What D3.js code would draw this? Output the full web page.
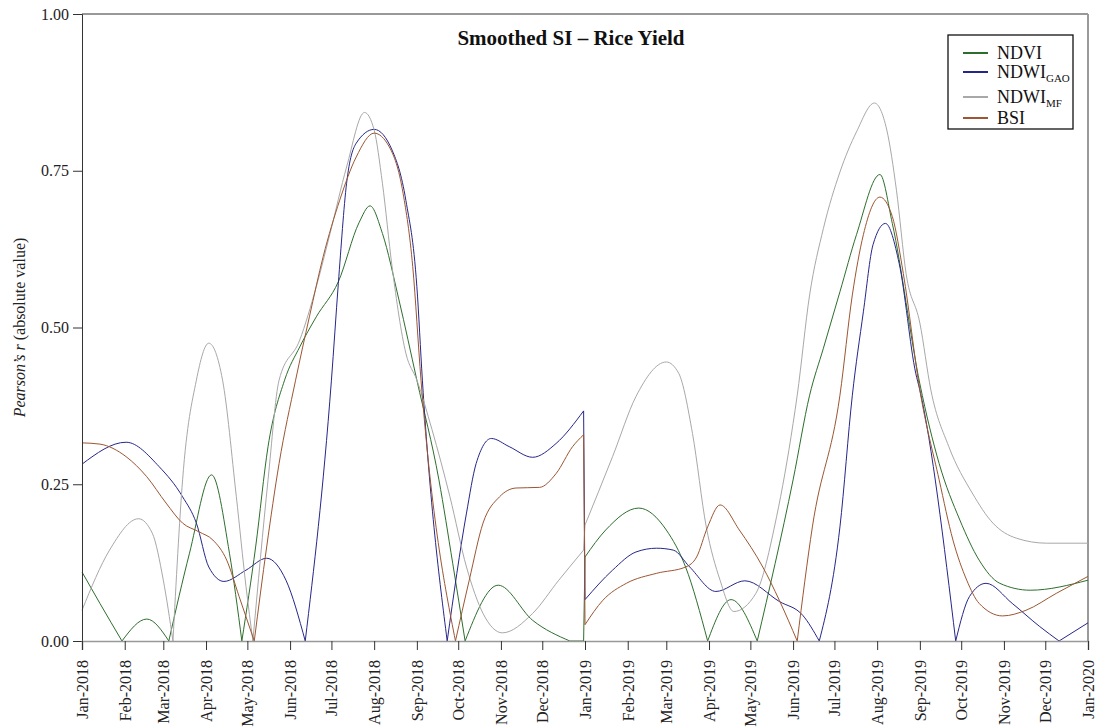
<!DOCTYPE html>
<html>
<head>
<meta charset="utf-8">
<script src="https://cdn.jsdelivr.net/npm/d3@7"></script>
<style>
  body { margin: 0; background: #fff; }
  svg { display: block; font-family: "Liberation Serif", "Times New Roman", serif; }
</style>
</head>
<body>
<div id="chart"></div>
<script>
// Values: [date, |r|]
const ndvi = [
	["2018-01-01", 0.11], ["2018-01-14", 0.06], ["2018-01-30", 0], ["2018-02-17", 0.035],
	["2018-03-05", 0], ["2018-03-20", 0.14], ["2018-04-05", 0.265], ["2018-04-18", 0.14],
	["2018-04-27", 0], ["2018-05-07", 0.15], ["2018-05-16", 0.31], ["2018-05-28", 0.416],
	["2018-06-08", 0.469], ["2018-06-20", 0.517], ["2018-07-06", 0.573], ["2018-07-21", 0.667],
	["2018-07-29", 0.694], ["2018-08-07", 0.65], ["2018-08-19", 0.544], ["2018-09-01", 0.416],
	["2018-09-17", 0.257], ["2018-09-27", 0.124], ["2018-10-06", 0], ["2018-10-30", 0.089],
	["2018-11-24", 0.033], ["2018-12-21", 0], ["2018-12-31", 0],
	["2019-01-01", 0.134], ["2019-01-16", 0.177], ["2019-02-09", 0.212], ["2019-03-01", 0.177],
	["2019-03-15", 0.118], ["2019-03-31", 0], ["2019-04-17", 0.066], ["2019-05-06", 0],
	["2019-06-01", 0.257], ["2019-06-13", 0.392], ["2019-06-23", 0.467], ["2019-07-05", 0.557],
	["2019-07-17", 0.648], ["2019-08-03", 0.744], ["2019-08-12", 0.666], ["2019-09-01", 0.41],
	["2019-09-15", 0.283], ["2019-09-30", 0.193], ["2019-10-14", 0.129], ["2019-10-29", 0.092],
	["2019-11-20", 0.081], ["2020-01-01", 0.097],
];

const ndwiGao = [
	["2018-01-01", 0.282], ["2018-02-02", 0.317], ["2018-02-26", 0.278], ["2018-03-15", 0.23],
	["2018-03-25", 0.188], ["2018-04-03", 0.118], ["2018-04-14", 0.095], ["2018-04-30", 0.113],
	["2018-05-15", 0.132], ["2018-05-29", 0.097], ["2018-06-12", 0], ["2018-07-01", 0.416],
	["2018-07-06", 0.57], ["2018-07-12", 0.73], ["2018-07-19", 0.794], ["2018-08-01", 0.816],
	["2018-08-14", 0.783], ["2018-08-24", 0.703], ["2018-09-01", 0.565], ["2018-09-05", 0.416],
	["2018-09-23", 0], ["2018-10-07", 0.204], ["2018-10-14", 0.283], ["2018-10-25", 0.323],
	["2018-11-07", 0.31], ["2018-11-24", 0.293], ["2018-12-11", 0.315], ["2018-12-31", 0.367],
	["2019-01-01", 0.066], ["2019-01-21", 0.113], ["2019-02-07", 0.142], ["2019-02-22", 0.148],
	["2019-03-06", 0.145], ["2019-03-18", 0.118], ["2019-04-06", 0.079], ["2019-04-27", 0.096],
	["2019-05-22", 0.063], ["2019-06-08", 0.041], ["2019-06-20", 0], ["2019-07-05", 0.182],
	["2019-07-14", 0.392], ["2019-07-22", 0.525], ["2019-07-29", 0.632], ["2019-08-07", 0.666],
	["2019-08-17", 0.602], ["2019-08-29", 0.427], ["2019-09-01", 0.40], ["2019-09-27", 0],
	["2019-10-07", 0.071], ["2019-10-19", 0.092], ["2019-11-07", 0.06], ["2019-11-27", 0.023],
	["2019-12-11", 0], ["2020-01-01", 0.029],
];

const ndwiMf = [
	["2018-01-01", 0.049], ["2018-01-21", 0.145], ["2018-02-11", 0.195], ["2018-02-21", 0.172],
	["2018-03-01", 0.097], ["2018-03-08", 0], ["2018-03-15", 0.257], ["2018-03-25", 0.416],
	["2018-04-03", 0.475], ["2018-04-13", 0.416], ["2018-04-23", 0.23], ["2018-04-30", 0.087],
	["2018-05-05", 0], ["2018-05-16", 0.257], ["2018-05-24", 0.416], ["2018-06-08", 0.48],
	["2018-06-20", 0.565], ["2018-06-30", 0.65], ["2018-07-12", 0.756], ["2018-07-25", 0.843],
	["2018-08-01", 0.815], ["2018-08-07", 0.73], ["2018-08-14", 0.597], ["2018-08-24", 0.459],
	["2018-09-01", 0.416], ["2018-09-12", 0.337], ["2018-09-25", 0.23], ["2018-10-07", 0.118],
	["2018-10-19", 0.044], ["2018-11-02", 0.013], ["2018-11-24", 0.044], ["2018-12-13", 0.097],
	["2018-12-31", 0.145],
	["2019-01-01", 0.185], ["2019-01-21", 0.294], ["2019-02-07", 0.39], ["2019-03-01", 0.445],
	["2019-03-10", 0.427], ["2019-03-20", 0.331], ["2019-03-30", 0.182], ["2019-04-09", 0.097],
	["2019-04-19", 0.047], ["2019-05-05", 0.076], ["2019-05-20", 0.198], ["2019-06-01", 0.347],
	["2019-06-04", 0.392], ["2019-06-13", 0.552], ["2019-06-23", 0.658], ["2019-07-05", 0.748],
	["2019-07-17", 0.812], ["2019-07-30", 0.858], ["2019-08-08", 0.815], ["2019-08-15", 0.719],
	["2019-08-22", 0.586], ["2019-09-01", 0.507], ["2019-09-09", 0.40], ["2019-09-22", 0.31],
	["2019-10-09", 0.236], ["2019-10-24", 0.188], ["2019-11-10", 0.164], ["2019-12-02", 0.156],
	["2020-01-01", 0.156],
];

const bsi = [
	["2018-01-01", 0.316], ["2018-01-14", 0.314], ["2018-02-02", 0.294], ["2018-02-17", 0.262],
	["2018-03-03", 0.22], ["2018-03-15", 0.188], ["2018-03-27", 0.174], ["2018-04-06", 0.161],
	["2018-04-16", 0.129], ["2018-04-25", 0.071], ["2018-05-06", 0], ["2018-05-15", 0.15],
	["2018-05-24", 0.283], ["2018-06-05", 0.416], ["2018-06-15", 0.517], ["2018-06-25", 0.613],
	["2018-07-07", 0.703], ["2018-07-19", 0.772], ["2018-08-01", 0.81], ["2018-08-12", 0.788],
	["2018-08-22", 0.714], ["2018-08-29", 0.597], ["2018-09-04", 0.416], ["2018-09-29", 0],
	["2018-10-09", 0.097], ["2018-10-19", 0.188], ["2018-10-31", 0.23], ["2018-11-12", 0.244],
	["2018-11-29", 0.245], ["2018-12-11", 0.267], ["2018-12-23", 0.31], ["2018-12-31", 0.329],
	["2019-01-01", 0.026], ["2019-01-14", 0.065], ["2019-01-31", 0.092], ["2019-02-22", 0.108],
	["2019-03-15", 0.118], ["2019-03-23", 0.134], ["2019-03-31", 0.182], ["2019-04-09", 0.217],
	["2019-04-23", 0.177], ["2019-05-10", 0.118], ["2019-05-22", 0.065], ["2019-06-04", 0],
	["2019-06-15", 0.182], ["2019-07-05", 0.392], ["2019-07-14", 0.552], ["2019-07-22", 0.648],
	["2019-08-03", 0.708], ["2019-08-12", 0.677], ["2019-08-20", 0.586], ["2019-09-01", 0.40],
	["2019-09-15", 0.257], ["2019-09-25", 0.161], ["2019-10-05", 0.097], ["2019-10-14", 0.06],
	["2019-10-31", 0.04], ["2019-11-17", 0.049], ["2019-12-09", 0.076], ["2020-01-01", 0.103],
];

const seriesNames = ["NDVI", "NDWI", "NDWI", "BSI"];
const seriesSubs = ["", "GAO", "MF", ""];
const seriesColors = ["#2d6e2d", "#26268a", "#a8a8a8", "#9c5632"];
const seriesData = [ndvi, ndwiGao, ndwiMf, bsi];
const yTicks = [0, 0.25, 0.5, 0.75, 1];

const W = 1099, H = 727;
const margin = { top: 14, right: 11, bottom: 86, left: 82 };
const iW = W - margin.left - margin.right;
const iH = H - margin.top - margin.bottom;
const parse = d3.timeParse("%Y-%m-%d");
const yearBreak = parse("2019-01-01");

const svg = d3.select("#chart").append("svg").attr("width", W).attr("height", H);
const g = svg.append("g").attr("transform", `translate(${margin.left},${margin.top})`);

const x = d3.scaleTime().domain([parse("2018-01-01"), parse("2020-01-01")]).range([0, iW]);
const y = d3.scaleLinear().domain([0, 1]).range([iH, 0]);

// frame: dark top, grey right
g.append("line").attr("x1", 0).attr("x2", iW).attr("y1", 0).attr("y2", 0)
	.attr("stroke", "#333").attr("stroke-width", 1);
g.append("line").attr("x1", iW).attr("x2", iW).attr("y1", 0).attr("y2", iH)
	.attr("stroke", "#9a9a9a").attr("stroke-width", 2);

// split at zero cusps and at the year change so the curve stays sharp there
function segments(pts) {
	const segs = [];
	let cur = [pts[0]];
	for (let i = 1; i < pts.length; i++) {
		const p = pts[i];
		if (+p.date === +yearBreak) {
			segs.push(cur);
			segs.push([pts[i - 1], p]);
			cur = [p];
			continue;
		}
		cur.push(p);
		if (p.v === 0) {
			segs.push(cur);
			cur = [p];
		}
	}
	segs.push(cur);
	return segs.filter((s) => s.length > 1);
}

const line = d3.line()
	.x((d) => x(d.date))
	.y((d) => y(d.v))
	.curve(d3.curveMonotoneX);

seriesData.forEach((raw, i) => {
	const pts = raw.map(([dt, v]) => ({ date: parse(dt), v }));
	const d = segments(pts).map((s) => line(s)).join("");
	g.append("path")
		.attr("d", d)
		.attr("fill", "none")
		.attr("stroke", seriesColors[i])
		.attr("stroke-width", 1)
		.attr("stroke-linejoin", "round");
});

// axes
g.append("g")
	.call(d3.axisLeft(y).tickValues(yTicks).tickSize(9).tickPadding(4).tickFormat(d3.format(".2f")))
	.call((a) => {
		a.select(".domain").attr("stroke", "#333");
		a.selectAll("line").attr("stroke", "#333");
		a.selectAll("text").attr("fill", "#222").style("font-size", "16px")
			.style("font-family", "'Liberation Serif', serif");
	});

g.append("g")
	.attr("transform", `translate(0,${iH})`)
	.call(d3.axisBottom(x).ticks(d3.timeMonth.every(1)).tickSize(9).tickFormat(d3.timeFormat("%b-%Y")))
	.call((a) => {
		a.select(".domain").attr("stroke", "#999").attr("stroke-width", 1.6);
		a.selectAll("line").attr("stroke", "#333");
		a.selectAll("text")
			.attr("fill", "#222")
			.style("font-size", "16px")
			.style("font-family", "'Liberation Serif', serif")
			.style("text-anchor", "end")
			.attr("transform", "rotate(-90)")
			.attr("x", -19)
			.attr("y", 0)
			.attr("dy", "0.33em");
	});

// title
g.append("text")
	.attr("x", 489)
	.attr("y", 31)
	.attr("text-anchor", "middle")
	.style("font-size", "21px")
	.style("font-weight", "bold")
	.attr("fill", "#111")
	.text("Smoothed SI – Rice Yield");

// y label
const yl = svg.append("text")
	.attr("transform", `translate(25,${margin.top + iH / 2}) rotate(-90)`)
	.attr("text-anchor", "middle")
	.style("font-size", "16px")
	.attr("fill", "#222");
yl.append("tspan").style("font-style", "italic").text("Pearson’s r");
yl.append("tspan").text(" (absolute value)");

// legend
const legendRowY = [18, 37, 62, 83];
const lg = svg.append("g").attr("transform", "translate(948,35)");
lg.append("rect").attr("width", 125).attr("height", 94)
	.attr("fill", "#fff").attr("stroke", "#111").attr("stroke-width", 1.3);
seriesNames.forEach((name, i) => {
	const row = lg.append("g").attr("transform", `translate(0,${legendRowY[i]})`);
	row.append("line").attr("x1", 15).attr("x2", 40).attr("y1", 0).attr("y2", 0)
		.attr("stroke", seriesColors[i]).attr("stroke-width", 2);
	const t = row.append("text").attr("x", 49).attr("y", 6)
		.style("font-size", "18px").attr("fill", "#111").text(name);
	if (seriesSubs[i]) {
		t.append("tspan").attr("dy", 4).style("font-size", "11px").text(seriesSubs[i]);
	}
});
</script>
</body>
</html>
